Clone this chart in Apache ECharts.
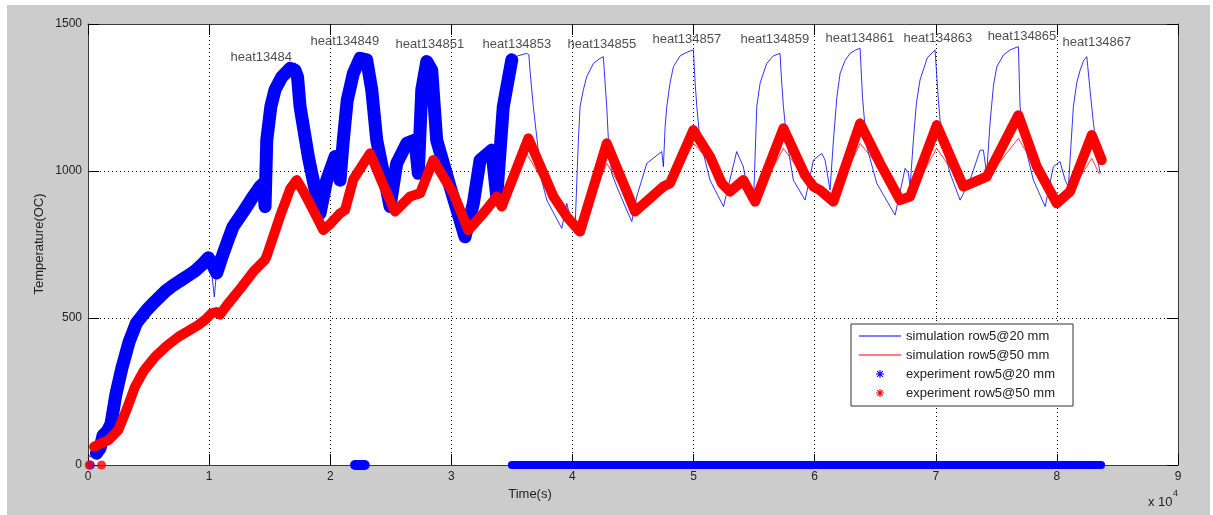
<!DOCTYPE html>
<html>
<head>
<meta charset="utf-8">
<script src="https://cdn.jsdelivr.net/npm/echarts@6/dist/echarts.min.js"></script>
<style>
  html, body { margin: 0; padding: 0; background: #ffffff; }
  #frame { position: absolute; left: 7px; top: 5px; width: 1203px; height: 510px; background: #cccccc; }
  #chart { position: absolute; left: 0; top: 0; width: 1213px; height: 515px; }
</style>
</head>
<body>
<div id="frame"></div>
<div id="chart"></div>
<script>
// Time in seconds, temperature in °C
const seriesNames = [
  'simulation row5@20 mm',
  'simulation row5@50 mm',
  'experiment row5@20 mm',
  'experiment row5@50 mm'
];

const simRow5At20 = [
  [0,25],[700,40],[1000,55],[1240,100],[1600,115],[1900,140],[2300,240],[2800,330],[3400,420],
  [4000,483],[4850,527],[5500,555],[6360,590],[7000,610],[7740,630],[8300,645],[8840,660],
  [9500,685],[9930,705],[10250,640],[10430,572],[10600,650],[11000,700],[11560,765],[11970,810],
  [12800,860],[13500,905],[14200,950],[14480,960],[14620,880],[14760,1105],[15100,1225],[15440,1280],
  [16000,1330],[16680,1358],[17100,1368],[17300,1340],[17510,1219],[18190,1049],[19160,856],
  [19710,969],[20400,1049],[20810,969],[21080,1105],[21400,1240],[21910,1332],[22460,1383],[23010,1378],
  [23430,1276],[23840,1105],[24670,935],[24940,879],[25490,1026],[26320,1094],[27000,1110],
  [27270,992],[27560,1276],[27970,1372],[28380,1343],[28790,1105],[29890,947],[31130,776],
  [31820,890],[32370,1037],[33340,1071],[33750,913],[34290,1219],[34990,1378],
  [35500,1392],[36220,1400],[36400,1395],[36500,1340],[36770,1219],[37460,969],[37880,901],[39120,805],
  [39530,890],[39800,845],[40200,788],[40490,1105],[40630,1219],[40900,1276],[41180,1321],
  [41730,1366],[42280,1383],[42550,1389],[42830,1219],[42970,1105],[43240,992],[43660,947],
  [44480,867],[44900,828],[45310,913],[46140,1026],[47370,1066],
  [47510,1015],[47650,1150],[47790,1219],[48060,1300],[48340,1355],[48900,1392],[49500,1405],
  [49990,1412],[50130,1300],[50270,1219],[50530,1105],[51360,969],[52470,879],
  [53560,1066],[54110,1015],[54390,947],[54940,879],[55220,1219],[55500,1300],[56040,1366],
  [56600,1392],[57140,1400],[57280,1300],[57420,1219],[57700,1105],[58240,969],[59210,901],
  [59900,1037],[60580,1060],[60860,1037],[61270,935],
  [61550,1105],[61830,1250],[62100,1332],[62500,1375],[62920,1400],[63400,1412],[63750,1417],
  [63950,1250],[64300,1083],[65130,958],[66640,850],
  [67470,1009],[67740,992],[67880,947],[68150,1105],[68400,1230],[68700,1310],[69300,1385],
  [69940,1412],[70200,1250],[70490,1105],
  [71180,992],[72010,901],[72830,969],[73660,1071],[73930,1071],[74200,992],[74480,1162],
  [74760,1290],[75040,1355],[75600,1395],[76140,1412],[76820,1423],[76890,1320],[76960,1219],
  [77400,1080],[78060,969],[79030,879],[79710,1015],
  [80260,1032],[80680,969],[80950,947],[81360,1219],[81640,1300],[81920,1343],[82200,1375],
  [82470,1389],[82750,1270],[83020,1162],[83430,1026],[83570,992]
];

const simRow5At50 = [
  [0,25],[500,55],[1000,70],[1700,85],[2500,119],[3200,190],[3880,266],[4600,320],[5530,368],
  [6500,405],[7460,436],[8300,456],[9110,476],[9700,495],[10210,516],[10600,520],[10900,512],
  [11500,545],[12700,606],[13700,660],[14600,697],[14750,710],[15850,845],[16700,935],
  [17230,960],[17800,925],[18600,867],[19430,799],[20000,820],[20810,856],[21220,867],
  [21910,960],[23290,1045],[24300,955],[25350,862],[26590,913],[27420,924],[28510,1025],
  [30170,920],[31400,799],[32640,856],[33750,913],[34160,879],[36200,1060],[38430,905],
  [39530,850],[40630,800],[42830,1026],[45170,865],[47510,940],[48060,950],[50000,1094],
  [51360,1030],[52330,950],[53000,935],[54110,960],[55080,900],[57420,1077],[59200,975],
  [60440,935],[61550,900],[63750,1094],[65400,1010],[67050,905],[67880,915],[70080,1077],
  [72280,945],[74210,975],[76820,1111],[78340,1005],[79990,895],[81090,925],[82880,1043],
  [83500,990]
];

const expRow5At20 = [
  [700,40],[1000,58],[1240,100],[1600,115],[1900,140],[2300,240],[2800,330],[3400,420],
  [4000,483],[4850,527],[5500,555],[6360,590],[7000,610],[7740,630],[8300,645],[8840,660],
  [9500,685],[9930,705],[10300,680],[10630,653],[11000,700],[11560,765],[11970,810],
  [12800,860],[13500,905],[14200,947],[14480,958],[14620,879],[14760,1105],[15100,1220],[15440,1276],
  [16000,1320],[16680,1349],[17090,1343],[17300,1320],[17510,1219],[18190,1049],[19160,856],
  [19710,969],[20400,1049],[20810,969],[21080,1105],[21400,1240],[21910,1332],[22460,1383],[23010,1378],
  [23430,1276],[23840,1105],[24670,935],[24940,879],[25490,1026],[26320,1094],[27000,1105],
  [27270,992],[27560,1276],[27970,1372],[28380,1343],[28790,1105],[29890,947],[31130,776],
  [31820,890],[32370,1037],[33340,1071],[33750,913],[34290,1219],[34990,1378]
];
// readings that dropped to zero (logger off)
const expRow5At20ZeroA = [[22050,0],[22850,0]];
const expRow5At20ZeroB = [[35000,0],[83650,0]];
const expRow5At20Start = [[200,0]];

const expRow5At50 = [
  [500,62],[1000,72],[1700,85],[2500,119],[3200,190],[3880,266],[4600,320],[5530,368],
  [6500,405],[7460,436],[8300,456],[9110,476],[9700,495],[10210,516],[10600,520],[10900,512],
  [11500,545],[12700,606],[13700,660],[14600,697],[14750,710],[15850,845],[16700,940],
  [17230,969],[17800,930],[18600,867],[19430,799],[20000,820],[20810,856],[21220,867],
  [21910,972],[23290,1060],[24300,960],[25350,862],[26590,913],[27420,924],[28510,1037],
  [30170,924],[31400,799],[32640,856],[33750,913],[34160,879],[36360,1111],[38430,913],
  [39530,845],[40630,794],[42830,1094],[45170,862],[47510,947],[48060,958],[49980,1139],
  [51360,1049],[52330,958],[53000,930],[54110,969],[55080,896],[57420,1145],[59200,986],
  [59900,947],[60440,935],[61550,896],[63750,1162],[65400,1026],[67050,901],[67880,913],
  [70080,1156],[72280,947],[74210,981],[76820,1190],[78340,1015],[79990,890],[81090,930],
  [82880,1122],[83710,1037]
];
const expRow5At50Zero = [[100,0],[1120,0]];

// heat cycle annotations: [time, temperature] anchor of each label
const heatLabels = ['heat13484','heat134849','heat134851','heat134853','heat134855','heat134857',
                    'heat134859','heat134861','heat134863','heat134865','heat134867'];
const heatLabelAnchors = [[11730,1388],[18330,1442],[25350,1429],[32540,1432],[39550,1432],
                          [46570,1446],[53840,1449],[60860,1452],[67300,1452],[74240,1459],[80430,1439]];

const xTicks = { min: 0, max: 90000, interval: 10000 };
const yTicks = { min: 0, max: 1500, interval: 500 };

const FONT = '"Liberation Sans", Arial, Helvetica, sans-serif';
const BLUE = '#0000ff';
const RED = '#ff0000';

// legend glyphs: extra moveTo points fix the bounding box so the glyph keeps its size
const LINE_ICON = 'path://M0,0 M42,14 M0,6.5 L42,6.5 L42,7.5 L0,7.5 Z';
const STAR_ICON = 'path://M0,0 M14,14 ' +
  'M3,6.45 L11,6.45 L11,7.55 L3,7.55 Z ' +
  'M6.45,3 L7.55,3 L7.55,11 L6.45,11 Z ' +
  'M4.6,3.8 L10.2,9.4 L9.4,10.2 L3.8,4.6 Z ' +
  'M10.2,4.6 L4.6,10.2 L3.8,9.4 L9.4,3.8 Z';

function thinLine(name, data, color, opacity) {
  return {
    name, type: 'line', data, symbol: 'none', showSymbol: false, smooth: false,
    itemStyle: { color },
    lineStyle: { color, width: 1, opacity },
    emphasis: { disabled: true }, z: 2
  };
}
function thickLine(name, data, color, width, z) {
  return {
    name, type: 'line', data, symbol: 'none', showSymbol: false, smooth: false,
    itemStyle: { color },
    lineStyle: { color, width, cap: 'round', join: 'round' },
    emphasis: { disabled: true }, z
  };
}
function zeroDots(name, data, color, z) {
  return {
    name, type: 'scatter', data, symbol: 'circle', symbolSize: 9,
    itemStyle: { color }, emphasis: { disabled: true }, z
  };
}

const chart = echarts.init(document.getElementById('chart'), null, { renderer: 'canvas' });

const axisCommon = {
  type: 'value',
  axisLine: { show: true, onZero: false, lineStyle: { color: '#3a3a3a', width: 1 } },
  axisTick: { show: true, inside: true, length: 11, lineStyle: { color: '#000', width: 1 } },
  splitLine: { show: false }
};

chart.setOption({
  animation: false,
  backgroundColor: 'transparent',
  textStyle: { fontFamily: FONT },
  grid: {
    left: 88, right: 35, top: 24, bottom: 50,
    show: true, backgroundColor: '#ffffff', borderWidth: 0
  },
  xAxis: [
    Object.assign({}, axisCommon, xTicks, {
      position: 'bottom',
      axisLabel: { show: true, margin: 6, color: '#222', fontSize: 12, fontFamily: FONT,
                   formatter: v => String(v / 10000) },
      splitLine: { show: true, lineStyle: { color: '#000', width: 1, type: [1, 3] } }
    }),
    Object.assign({}, axisCommon, xTicks, {
      position: 'top', axisLabel: { show: false }
    })
  ],
  yAxis: [
    Object.assign({}, axisCommon, yTicks, {
      position: 'left',
      axisLabel: { show: true, margin: 6, color: '#222', fontSize: 12, fontFamily: FONT,
                   formatter: v => String(v) },
      splitLine: { show: true, lineStyle: { color: '#000', width: 1, type: [1, 3] } }
    }),
    Object.assign({}, axisCommon, yTicks, {
      position: 'right', axisLabel: { show: false }
    })
  ],
  legend: {
    orient: 'vertical',
    left: 851, top: 324,
    padding: [5, 18, 6, 8],
    itemWidth: 42, itemHeight: 14, itemGap: 5,
    backgroundColor: '#ffffff',
    borderColor: '#333333', borderWidth: 1, borderRadius: 0,
    selectedMode: false,
    textStyle: { fontSize: 13, color: '#222', fontFamily: FONT },
    data: [
      { name: seriesNames[0], icon: LINE_ICON, itemStyle: { color: BLUE, borderWidth: 0 } },
      { name: seriesNames[1], icon: LINE_ICON, itemStyle: { color: RED, borderWidth: 0 } },
      { name: seriesNames[2], icon: STAR_ICON, itemStyle: { color: BLUE, borderWidth: 0 } },
      { name: seriesNames[3], icon: STAR_ICON, itemStyle: { color: RED, borderWidth: 0 } }
    ]
  },
  graphic: [
    { type: 'text', x: 530, y: 494, silent: true,
      style: { text: 'Time(s)', fill: '#222', font: '13px ' + FONT, align: 'center', verticalAlign: 'middle' } },
    { type: 'text', x: 39, y: 244, rotation: Math.PI / 2, silent: true,
      style: { text: 'Temperature(OC)', fill: '#222', font: '13px ' + FONT, align: 'center', verticalAlign: 'middle' } },
    { type: 'text', x: 1148, y: 502, silent: true,
      style: { text: 'x 10', fill: '#222', font: '13px ' + FONT, align: 'left', verticalAlign: 'middle' } },
    { type: 'text', x: 1173, y: 494, silent: true,
      style: { text: '4', fill: '#222', font: '9px ' + FONT, align: 'left', verticalAlign: 'middle' } }
  ],
  series: [
    thinLine(seriesNames[0], simRow5At20, BLUE, 0.8),
    thinLine(seriesNames[1], simRow5At50, RED, 0.75),
    thickLine(seriesNames[2], expRow5At20, BLUE, 13, 3),
    thickLine(seriesNames[2], expRow5At20ZeroA, BLUE, 10, 3),
    thickLine(seriesNames[2], expRow5At20ZeroB, BLUE, 8, 3),
    zeroDots(seriesNames[2], expRow5At20Start, BLUE, 3),
    thickLine(seriesNames[3], expRow5At50, RED, 10, 4),
    zeroDots(seriesNames[3], expRow5At50Zero, RED, 4),
    {
      name: 'heat cycles', type: 'scatter', symbol: 'circle', symbolSize: 1, z: 5,
      data: heatLabelAnchors,
      itemStyle: { color: 'rgba(0,0,0,0)' },
      emphasis: { disabled: true },
      labelLayout: { hideOverlap: false },
      label: {
        show: true, position: 'right', distance: 0,
        color: '#222', fontSize: 13, fontFamily: FONT,
        formatter: p => heatLabels[p.dataIndex]
      }
    }
  ]
});
</script>
</body>
</html>
